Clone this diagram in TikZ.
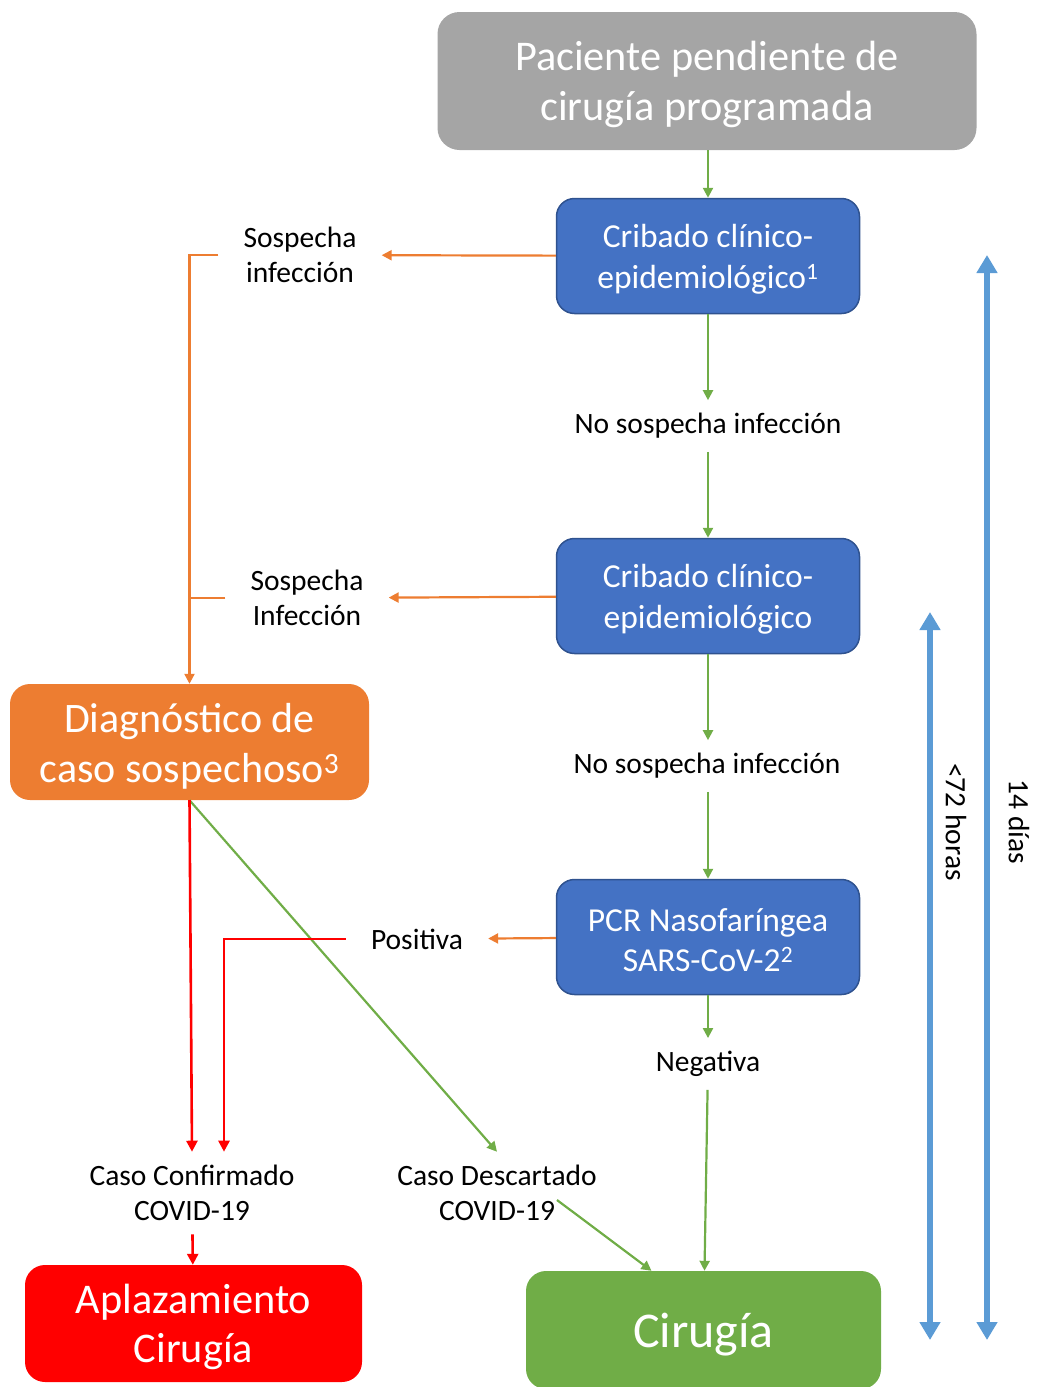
\documentclass[tikz,border=0pt]{standalone}
\usepackage{fontspec}
\setmainfont{Carlito}
\usetikzlibrary{arrows.meta,calc}
\definecolor{grisbox}{HTML}{A5A5A5}
\definecolor{azulbox}{HTML}{4472C4}
\definecolor{bordeazul}{HTML}{2F528F}
\definecolor{naranjabox}{HTML}{ED7D31}
\definecolor{rojobox}{HTML}{FF0000}
\definecolor{verdebox}{HTML}{70AD47}
\definecolor{azulflecha}{HTML}{5B9BD5}
\newcommand{\alto}{\rule{0pt}{0.88em}}
\begin{document}
\begin{tikzpicture}[x=1pt,y=-1pt,
caja/.style={rounded corners=20pt, text=white, align=center, inner sep=0pt},
cajaazul/.style={caja, fill=azulbox, draw=bordeazul, line width=1.5pt, rounded corners=18pt, minimum width=303pt, minimum height=115pt, font=\fontsize{33.5}{40.5}\selectfont},
etiqueta/.style={align=center, inner xsep=25pt, inner ysep=13pt, font=\fontsize{29.5}{35.5}\selectfont},
verde/.style={draw=verdebox, line width=2.2pt, -{Triangle[length=10pt,width=10pt]}},
naranja/.style={draw=naranjabox, line width=2.2pt, -{Triangle[length=10pt,width=10pt]}},
roja/.style={draw=rojobox, line width=2.6pt, -{Triangle[length=11pt,width=11pt]}},
tiempo/.style={draw=azulflecha, line width=5.5pt, {Triangle[length=18pt,width=20pt]}-{Triangle[length=18pt,width=20pt]}}]
\useasboundingbox (0,0) rectangle (1037,1387);
% cajas
\node[caja, fill=grisbox, rounded corners=22pt, minimum width=539pt, minimum height=138pt, font=\fontsize{42.3}{50}\selectfont] (paciente) at (707,81) {\alto Paciente pendiente de\\cirugía programada};
\node[cajaazul] (cribado1) at (708,256) {\alto Cribado clínico-\\epidemiológico\textsuperscript{1}};
\node[cajaazul] (cribado2) at (708,596) {\alto Cribado clínico-\\epidemiológico};
\node[cajaazul] (pcr) at (708,937) {\alto PCR Nasofaríngea\\SARS-CoV-2\textsuperscript{2}};
\node[caja, fill=naranjabox, minimum width=359pt, minimum height=116pt, font=\fontsize{42}{50}\selectfont] (diagnostico) at (189.5,742) {\alto Diagnóstico de\\caso sospechoso\textsuperscript{3}};
\node[caja, fill=rojobox, minimum width=337pt, minimum height=117pt, font=\fontsize{42.3}{49}\selectfont] (aplazamiento) at (193.5,1323.5) {\alto Aplazamiento\\Cirugía};
\node[caja, fill=verdebox, minimum width=355pt, minimum height=118pt, font=\fontsize{50}{59}\selectfont] (cirugia) at (703.5,1330) {\alto Cirugía};
% etiquetas
\node[etiqueta] (sospecha1) at (300,255) {Sospecha\\infección};
\node[etiqueta] (nosospecha1) at (708,426) {No sospecha infección};
\node[etiqueta] (sospecha2) at (307,598) {Sospecha\\Infección};
\node[etiqueta] (nosospecha2) at (707,766) {No sospecha infección};
\node[etiqueta] (positiva) at (417,939) {Positiva};
\node[etiqueta] (negativa) at (708,1064) {Negativa};
\node[etiqueta] (confirmado) at (192,1193) {Caso Confirmado\\COVID-19};
\node[etiqueta] (descartado) at (497,1193) {Caso Descartado\\COVID-19};
\coordinate (descartadoout) at (557,1200);
% flechas del flujo
\draw[verde] (cribado1 |- paciente.south) -- (cribado1.north);
\draw[verde] (cribado1) -- (nosospecha1);
\draw[verde] (nosospecha1) -- (cribado2);
\draw[verde] (cribado2.south) -- (cribado2.south |- nosospecha2.north);
\draw[verde] (pcr.north |- nosospecha2.south) -- (pcr.north);
\draw[verde] (pcr) -- (negativa);
\draw[verde] (negativa) -- (cirugia);
\draw[verde] (diagnostico.south) -- (descartado.north);
\draw[verde] (descartadoout) -- ($(cirugia.north)+(-52,0)$);
\draw[naranja] (cribado1) -- (sospecha1);
\draw[naranja] (cribado2) -- (sospecha2);
\draw[naranja] (pcr) -- (positiva);
\draw[naranja] (sospecha1.west) -| (diagnostico.north);
\draw[naranja, -] (sospecha2.west) -- (sospecha2.west -| diagnostico.north);
\draw[roja] (diagnostico.south) -- (confirmado.north);
\draw[roja] (positiva.west) -| ($(confirmado.north)+(32,0)$);
\draw[roja] (confirmado) -- (aplazamiento);
% tiempos
\coordinate (t72a) at (930,612);
\coordinate (t72b) at (930,1340);
\coordinate (t14a) at (987,255);
\coordinate (t14b) at (987,1340);
\draw[tiempo] (t72a) -- (t72b);
\draw[tiempo] (t14a) -- (t14b);
\node[rotate=-90, font=\fontsize{29.5}{35}\selectfont] (horas72) at (956,822) {<72 horas};
\node[rotate=-90, font=\fontsize{29.5}{35}\selectfont] (dias14) at (1019,822) {14 días};
\end{tikzpicture}
\end{document}
